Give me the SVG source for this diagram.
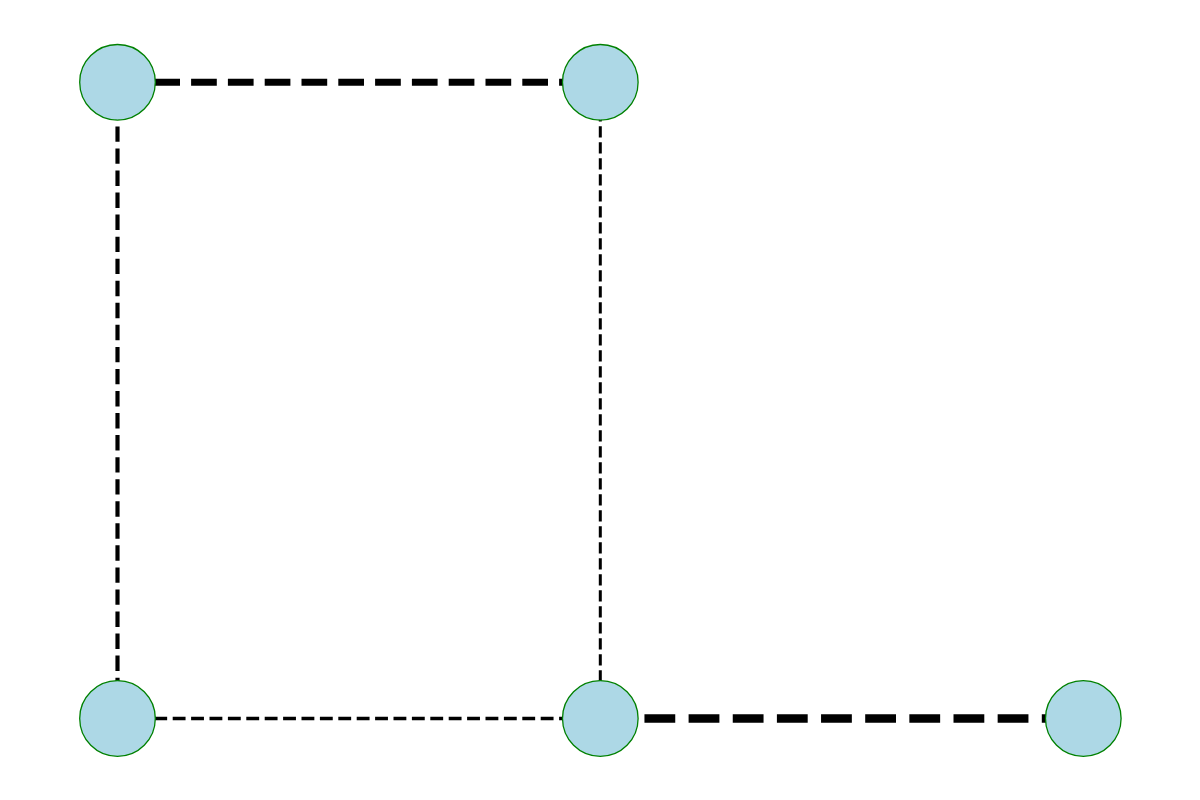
<svg xmlns="http://www.w3.org/2000/svg" width="1200" height="800" viewBox="0 0 1200 800">
  <style>
    .edge { stroke: #000000; fill: none; stroke-linecap: butt; }
    .node { fill: #ADD8E6; stroke: #008000; stroke-width: 1.3; }
  </style>
  <rect x="0" y="0" width="1200" height="800" fill="#ffffff"/>
  <g id="edges">
    <line class="edge" x1="117.5" y1="82.3" x2="600.3" y2="82.3" stroke-width="6.94" stroke-dasharray="25.7 11.1"/>
    <line class="edge" x1="117.5" y1="82.3" x2="117.5" y2="718.5" stroke-width="4.16" stroke-dasharray="15.4 6.65"/>
    <line class="edge" x1="600.3" y1="82.3" x2="600.3" y2="718.5" stroke-width="3.0" stroke-dasharray="11.1 4.9" stroke-dashoffset="4"/>
    <line class="edge" x1="117.5" y1="718.5" x2="600.3" y2="718.5" stroke-width="3.47" stroke-dasharray="12.85 5.55"/>
    <line class="edge" x1="600.3" y1="718.5" x2="1083.3" y2="718.5" stroke-width="8.33" stroke-dasharray="30.8 13.35"/>
  </g>
  <g id="node-1"><circle class="node" cx="117.5" cy="82.3" r="37.8"/></g>
  <g id="node-2"><circle class="node" cx="600.3" cy="82.3" r="37.8"/></g>
  <g id="node-3"><circle class="node" cx="117.5" cy="718.5" r="37.8"/></g>
  <g id="node-4"><circle class="node" cx="600.3" cy="718.5" r="37.8"/></g>
  <g id="node-5"><circle class="node" cx="1083.3" cy="718.5" r="37.8"/></g>
</svg>
